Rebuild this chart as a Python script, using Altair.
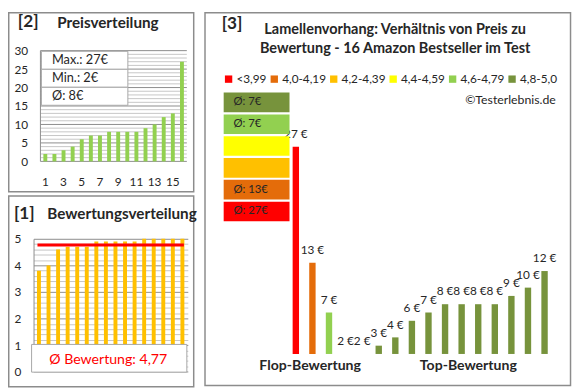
import altair as alt
import pandas as pd

# ---------------- data ----------------
price_rank = list(range(1, 17))
prices_sorted = [2, 2, 3, 4, 6, 7, 7, 8, 8, 8, 8, 9, 10, 12, 13, 27]
ratings_sorted = [3.8, 4.0, 4.6, 4.7, 4.7, 4.7, 4.9, 4.9, 4.9, 4.9, 4.9, 5.0, 5.0, 5.0, 5.0, 5.0]
avg_rating = [4.77]
avg_rating_text = "Ø Bewertung: 4,77"

p3_prices = [27, 13, 7, 2, 2, 3, 4, 6, 7, 8, 8, 8, 8, 9, 10, 12]
p3_classes = ["<3,99", "4,0-4,19", "4,6-4,79"] + ["4,8-5,0"] * 13
class_names = ["<3,99", "4,0-4,19", "4,2-4,39", "4,4-4,59", "4,6-4,79", "4,8-5,0"]
class_colors = ["#FF0000", "#E46C0A", "#FFC000", "#FFFF00", "#92D050", "#77933C"]

title2 = ["[2]", "Preisverteilung"]
title1 = ["[1]", "Bewertungsverteilung"]
title3 = ["[3]", "Lamellenvorhang: Verhältnis von Preis zu",
          "Bewertung - 16 Amazon Bestseller im Test"]
copyright_text = "©Testerlebnis.de"
group_labels = ["Flop-Bewertung", "Top-Bewertung"]

# ---------------- style ----------------
FONT = "Lato"
TXT = "#262626"
BORDER = "#8c8c8c"
GRID_MAJOR = "#8c8c8c"
GRID_MINOR = "#c6c6c6"

one = pd.DataFrame({"k": [0]})


def frame(x0, x1, y0, y1):
    return alt.Chart(one).mark_rect(fill="white", fillOpacity=0, stroke=BORDER, strokeWidth=1.5).encode(
        x=alt.value(x0), x2=alt.value(x1), y=alt.value(y0), y2=alt.value(y1))


def label(txt, x, y, size=12, bold=False, align="left", color=TXT):
    return alt.Chart(one).mark_text(
        text=txt, align=align, baseline="middle", fontSize=size,
        fontWeight="bold" if bold else "normal", color=color, font=FONT
    ).encode(x=alt.value(x), y=alt.value(y))


def box(x0, x1, y0, y1, fill="white", stroke="#a6a6a6"):
    return alt.Chart(one).mark_rect(fill=fill, stroke=stroke, strokeWidth=1 if stroke else 0).encode(
        x=alt.value(x0), x2=alt.value(x1), y=alt.value(y0), y2=alt.value(y1))


# ---------------- panel [2] Preisverteilung ----------------
W2, H2 = 156, 112.7
df2 = pd.DataFrame({"rank": price_rank, "price": prices_sorted})
grid2 = pd.DataFrame({"v": list(range(0, 31))})
y2scale = alt.Scale(domain=[0, 30])
ax2y = alt.Axis(values=list(range(0, 31, 5)), grid=False, domain=False, ticks=False,
                labelPadding=6, title=None)

g2 = alt.Chart(grid2).mark_rule(strokeWidth=1).encode(
    y=alt.Y("v:Q", scale=y2scale, axis=ax2y),
    x=alt.value(7), x2=alt.value(W2),
    color=alt.condition("datum.v % 5 == 0", alt.value(GRID_MAJOR), alt.value(GRID_MINOR)),
)
left2 = alt.Chart(one).mark_rule(color=GRID_MAJOR, strokeWidth=1).encode(
    x=alt.value(7), y=alt.value(0), y2=alt.value(H2))
bars2 = alt.Chart(df2).mark_bar(color="#92D050").encode(
    x=alt.X("rank:O", scale=alt.Scale(paddingInner=0.57, paddingOuter=0.7, align=0.77),
            axis=alt.Axis(labelExpr="datum.value % 2 == 1 ? datum.label : ''", domain=False,
                          ticks=False, labelPadding=16, labelAngle=0, title=None)),
    y=alt.Y("price:Q", scale=y2scale, axis=ax2y),
)
pmax, pmin = max(prices_sorted), min(prices_sorted)
pavg = round(sum(prices_sorted) / len(prices_sorted))
stats2 = [f"Max.: {pmax}€", f"Min.: {pmin}€", f"Ø: {pavg}€"]
stat_layers = []
for i, s in enumerate(stats2):
    stat_layers.append(box(8, 96, 0.7 + 18.3 * i, 19 + 18.3 * i))
    stat_layers.append(label(s, 18.7, 10 + 18.3 * i, size=13))

p2 = alt.layer(
    frame(-25.25, 163, -38.55, 143.7), g2, left2, bars2, *stat_layers,
    label(title2[0], -16, -29.3, size=17.5, bold=True),
    label(title2[1], 24, -28.3, size=15.5, bold=True),
).properties(width=W2, height=H2)

# ---------------- panel [1] Bewertungsverteilung ----------------
W1, H1 = 157, 135.2
df1 = pd.DataFrame({"rank": price_rank, "rating": ratings_sorted})
y1scale = alt.Scale(domain=[0, 5])
ax1y = alt.Axis(
    values=[round(i * 0.2, 1) for i in range(26)],
    labelExpr="datum.value % 1 == 0 ? format(datum.value, 'd') : ''",
    grid=True,
    gridColor={"condition": {"test": "datum.value % 1 == 0", "value": GRID_MAJOR}, "value": GRID_MINOR},
    domain=True, domainColor=GRID_MAJOR, ticks=False, labelPadding=13, title=None)

bars1 = alt.Chart(df1).mark_bar(color="#FFC000").encode(
    x=alt.X("rank:O", scale=alt.Scale(paddingInner=0.59, paddingOuter=0.36),
            axis=alt.Axis(labels=False, ticks=False, domain=False, title=None)),
    y=alt.Y("rating:Q", scale=y1scale, axis=ax1y),
)
avg1 = alt.Chart(pd.DataFrame({"avg": avg_rating})).mark_rule(color="#FF0000", strokeWidth=3).encode(
    y=alt.Y("avg:Q", scale=y1scale, axis=ax1y),
    x=alt.value(4), x2=alt.value(153),
)
p1 = alt.layer(
    frame(-25.25, 163, -43.5, 150.5), bars1, avg1,
    box(-2, 156, 107.5, H1 + 0.5),
    label(avg_rating_text, 76, 123.5, size=14.4, align="center", color="#FF0000"),
    label(title1[0], -20, -25.5, size=17.5, bold=True),
    label(title1[1], 14, -25.5, size=15.5, bold=True),
).properties(width=W1, height=H1)

# ---------------- panel [3] Verhältnis ----------------
W3, H3 = 270, 308.7
df3 = pd.DataFrame({"pos": price_rank, "price": p3_prices, "cls": p3_classes})
y3scale = alt.Scale(domain=[2, 38.58])
x3 = alt.X("pos:O", scale=alt.Scale(paddingInner=0.615, paddingOuter=0.3075), axis=None)

bars3 = alt.Chart(df3).mark_bar().encode(
    x=x3,
    y=alt.Y("price:Q", scale=y3scale, axis=None),
    y2=alt.datum(2),
    color=alt.Color("cls:N", scale=alt.Scale(domain=class_names, range=class_colors),
                    legend=alt.Legend(orient="none", legendX=-66, legendY=23, direction="horizontal",
                                      columns=6, title=None, symbolType="square", symbolSize=56,
                                      symbolStrokeWidth=0, labelFontSize=12, labelOffset=2,
                                      columnPadding=1.5, padding=0, labelColor=TXT, labelFont=FONT)),
)
lab3 = alt.Chart(df3).transform_calculate(t="datum.price + ' €'").mark_text(
    fontSize=12, color=TXT, baseline="middle", dy=-13, font=FONT
).encode(x=x3, y=alt.Y("price:Q", scale=y3scale, axis=None), text="t:N")

box_layers = []
for i, cname in enumerate(reversed(class_names)):
    col = class_colors[class_names.index(cname)]
    top = 42.7 + 22.2 * i
    box_layers.append(box(-65, 2, top, top + 20, fill=col, stroke=None))
    vals = [p for p, c in zip(p3_prices, p3_classes) if c == cname]
    if vals:
        box_layers.append(label(f"Ø: {round(sum(vals) / len(vals))}€", -55, top + 10, size=11.5))

p3 = alt.layer(
    frame(-84, 288, -38.55, 340.7), bars3, lab3, *box_layers,
    label(title3[0], -67, -27.3, size=17.5, bold=True),
    label(title3[1], 109.5, -21.3, size=14.7, bold=True, align="center"),
    label(title3[2], 109.5, -1.3, size=14.7, bold=True, align="center"),
    label(copyright_text, 273, 50.7, size=12.5, align="right"),
    label(group_labels[0], 23, 320.7, size=14.3, bold=True, align="center"),
    label(group_labels[1], 184, 320.7, size=14.3, bold=True, align="center"),
).properties(width=W3, height=H3)

chart = alt.hconcat(
    alt.vconcat(p2, p1, spacing=1.5), p3, spacing=6.5
).resolve_scale(color="independent").properties(padding=0).configure(font=FONT).configure_view(
    strokeWidth=0
).configure_axis(labelFont=FONT, labelFontSize=12, labelColor=TXT)

chart.save("out.html", embed_options={"renderer": "svg", "actions": False})
